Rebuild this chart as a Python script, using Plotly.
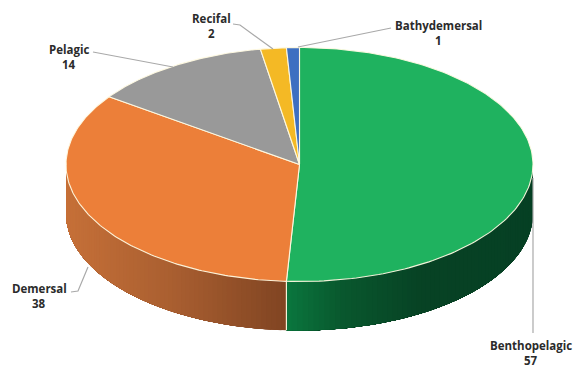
import numpy as np
import plotly.graph_objects as go

# Species counts per habitat, clockwise from twelve o'clock
habitats = ["Benthopelagic", "Demersal", "Pelagic", "Recifal", "Bathydemersal"]
counts = [57, 38, 14, 2, 1]
top_colors = ["#1fb25f", "#ec7f39", "#999999", "#f4b925", "#3d6fc1"]

# Wall shading stops per habitat: (fraction across the visible wall, rgb)
wall_shades = {
    "Benthopelagic": [(0.0, (10, 118, 62)), (0.22, (9, 88, 46)), (0.55, (7, 66, 36)), (1.0, (6, 64, 36))],
    "Demersal": [(0.0, (198, 112, 56)), (0.5, (168, 94, 48)), (1.0, (128, 68, 34))],
}

# Disc geometry in page pixels
CX, CY, RX, RY, DEPTH = 299.5, 164.5, 233.5, 117.0, 49.0
WIDTH, HEIGHT = 573, 368
EDGE = "rgba(255,250,225,0.95)"
LEADER = "#a9a9a9"
TEXT = "#2b2b2b"

# Label anchors (name line centre) and leader polylines
label_pos = {
    "Benthopelagic": (531, 345),
    "Demersal": (39, 288),
    "Pelagic": (69, 49),
    "Recifal": (211, 18),
    "Bathydemersal": (438, 25),
}
leaders = {
    "Benthopelagic": [(533, 178), (533, 333)],
    "Demersal": [(88, 267), (78, 291), (71, 292)],
    "Pelagic": [(173, 67), (93, 52)],
    "Recifal": [(273, 49), (240, 25), (233, 24)],
    "Bathydemersal": [(298, 47), (383, 29), (391, 28)],
}


def rim(t):
    """Point on the top ellipse; t in radians clockwise from the top."""
    return CX + RX * np.sin(t), CY - RY * np.cos(t)


def shade(stops, f):
    for (f0, c0), (f1, c1) in zip(stops, stops[1:]):
        if f <= f1:
            k = (f - f0) / (f1 - f0)
            return "rgb(%d,%d,%d)" % tuple(round(a + (b - a) * k) for a, b in zip(c0, c1))
    return "rgb(%d,%d,%d)" % stops[-1][1]


fractions = np.cumsum([0] + counts) / sum(counts)
angles = fractions * 2 * np.pi

fig = go.Figure()

# Visible wall: shaded strips along the front half of the rim; each strip runs
# to the far end of its habitat so the next one paints over it without seams
for i, name in enumerate(habitats):
    if name not in wall_shades:
        continue
    lo = max(angles[i], np.pi / 2)
    hi = min(angles[i + 1], 3 * np.pi / 2)
    edges = np.linspace(lo, hi, 71)
    xs_all = rim(edges)[0]
    x_min, x_max = xs_all.min(), xs_all.max()
    for t0, t1 in zip(edges, edges[1:]):
        tt = np.linspace(t0, hi, 60)
        x, y = rim(tt)
        xm = rim(0.5 * (t0 + t1))[0]
        c = shade(wall_shades[name], (xm - x_min) / (x_max - x_min))
        fig.add_trace(go.Scatter(
            x=np.r_[x, x[::-1], x[0]],
            y=np.r_[y, y[::-1] + DEPTH, y[0]],
            mode="lines", fill="toself", fillcolor=c,
            line=dict(width=0), hoverinfo="skip", showlegend=False,
        ))

# Seam between the two visible wall pieces
seam_x, seam_y = rim(angles[1])
fig.add_trace(go.Scatter(
    x=[seam_x, seam_x], y=[seam_y, seam_y + DEPTH], mode="lines",
    line=dict(color=EDGE, width=1.2), hoverinfo="skip", showlegend=False,
))

# Top face slices
for i, name in enumerate(habitats):
    tt = np.linspace(angles[i], angles[i + 1], 160)
    x, y = rim(tt)
    fig.add_trace(go.Scatter(
        x=np.r_[CX, x, CX], y=np.r_[CY, y, CY],
        mode="lines", fill="toself", fillcolor=top_colors[i],
        line=dict(color=EDGE, width=1.1), name=name, text=[f"{name}: {counts[i]}"] * (len(x) + 2),
        hoverinfo="text", showlegend=False,
    ))

# Leader lines
for name in habitats:
    pts = leaders[name]
    fig.add_trace(go.Scatter(
        x=[p[0] for p in pts], y=[p[1] for p in pts], mode="lines",
        line=dict(color=LEADER, width=1.2), hoverinfo="skip", showlegend=False,
    ))

# Two-line labels: name, then count
annotations = []
for name, n in zip(habitats, counts):
    lx, ly = label_pos[name]
    annotations.append(dict(x=lx, y=ly, text=f"<b>{name}</b>", showarrow=False,
                            xanchor="center", yanchor="middle"))
    annotations.append(dict(x=lx, y=ly + 15.5, text=f"<b>{n}</b>", showarrow=False,
                            xanchor="center", yanchor="middle"))

fig.update_layout(
    width=WIDTH, height=HEIGHT,
    margin=dict(l=0, r=0, t=0, b=0),
    paper_bgcolor="white", plot_bgcolor="white",
    font=dict(family="Open Sans", size=11.5, color=TEXT),
    annotations=annotations,
    xaxis=dict(range=[0, WIDTH], visible=False, fixedrange=True),
    yaxis=dict(range=[HEIGHT, 0], visible=False, fixedrange=True),
)

fig.write_html("out.html", config={"displayModeBar": False})
